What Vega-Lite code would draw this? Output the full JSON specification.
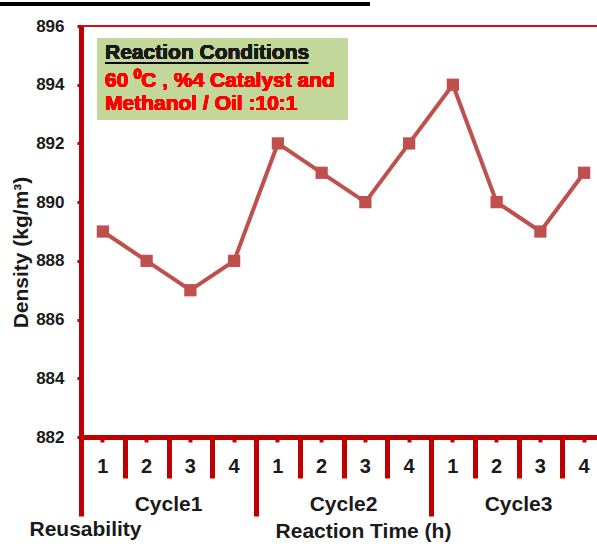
{
  "$schema": "https://vega.github.io/schema/vega-lite/v6.json",
  "width": 525,
  "height": 411,
  "autosize": {"type": "none"},
  "padding": {"left": 81, "top": 26, "right": 0, "bottom": 110},
  "config": {
    "view": {"stroke": "#c8161d", "strokeWidth": 2},
    "font": "Liberation Sans",
    "axis": {"grid": false}
  },
  "data": {
    "values": [
      {"cycle": "Cycle1", "slot": "C1-1", "density": 889},
      {"cycle": "Cycle1", "slot": "C1-2", "density": 888},
      {"cycle": "Cycle1", "slot": "C1-3", "density": 887},
      {"cycle": "Cycle1", "slot": "C1-4", "density": 888},
      {"cycle": "Cycle2", "slot": "C2-1", "density": 892},
      {"cycle": "Cycle2", "slot": "C2-2", "density": 891},
      {"cycle": "Cycle2", "slot": "C2-3", "density": 890},
      {"cycle": "Cycle2", "slot": "C2-4", "density": 892},
      {"cycle": "Cycle3", "slot": "C3-1", "density": 894},
      {"cycle": "Cycle3", "slot": "C3-2", "density": 890},
      {"cycle": "Cycle3", "slot": "C3-3", "density": 889},
      {"cycle": "Cycle3", "slot": "C3-4", "density": 891}
    ]
  },
  "layer": [
    {
      "mark": {"type": "line", "color": "#c0504d", "strokeWidth": 4,
        "point": {"shape": "square", "filled": true, "size": 150, "color": "#c0504d", "opacity": 1}},
      "encoding": {
        "x": {
          "field": "slot", "type": "nominal", "sort": null,
          "scale": {"type": "band", "paddingInner": 0, "paddingOuter": 0},
          "axis": {
            "orient": "bottom",
            "labelExpr": "substring(datum.label, 3)",
            "labelAngle": 0,
            "tickSize": 5,
            "tickWidth": 4,
            "tickColor": "#c00000",
            "domainColor": "#c00000",
            "domainWidth": 5,
            "labelPadding": 30,
            "labelBaseline": "alphabetic",
            "labelFontSize": 20,
            "labelFontWeight": "bold",
            "labelColor": "#1a1a1a",
            "title": "Reusability",
            "titleFontSize": 21,
            "titleFontWeight": "bold",
            "titleColor": "#1a1a1a",
            "titleAnchor": "start",
            "titleAlign": "left",
            "titleBaseline": "alphabetic",
            "titleX": -52,
            "titleY": 98
          }
        },
        "y": {
          "field": "density", "type": "quantitative",
          "scale": {"domain": [882, 896], "nice": false, "zero": false},
          "axis": {
            "values": [882, 883, 884, 885, 886, 887, 888, 889, 890, 891, 892, 893, 894, 895, 896],
            "labelExpr": "datum.value % 2 == 0 ? datum.label : ''",
            "tickSize": 4,
            "tickWidth": 3,
            "tickColor": "#c00000",
            "domainColor": "#c00000",
            "domainWidth": 5,
            "labelFontSize": 17,
            "labelFontWeight": "bold",
            "labelColor": "#1a1a1a",
            "labelPadding": 13,
            "title": "Density (kg/m³)",
            "titleFontSize": 21,
            "titleFontWeight": "bold",
            "titleColor": "#1a1a1a",
            "titleAngle": -90,
            "titleX": -60,
            "titleY": 226,
            "titleAlign": "center",
            "titleBaseline": "middle"
          }
        }
      }
    },
    {
      "mark": {"type": "point", "opacity": 0},
      "encoding": {
        "x": {
          "field": "cycle", "type": "nominal", "sort": null,
          "scale": {"type": "band", "paddingInner": 0, "paddingOuter": 0},
          "axis": {
            "orient": "bottom",
            "labelAngle": 0,
            "tickSize": 0,
            "tickOpacity": 0,
            "domain": false,
            "labelPadding": 73,
            "labelBaseline": "alphabetic",
            "labelFontSize": 21,
            "labelFontWeight": "bold",
            "labelColor": "#1a1a1a",
            "title": "Reaction Time (h)",
            "titleFontSize": 21,
            "titleFontWeight": "bold",
            "titleColor": "#1a1a1a",
            "titleAlign": "center",
            "titleBaseline": "alphabetic",
            "titleX": 282,
            "titleY": 100
          }
        },
        "y": {"field": "density", "type": "quantitative", "scale": {"domain": [882, 896], "nice": false, "zero": false}}
      }
    },
    {
      "mark": {"type": "point", "opacity": 0},
      "encoding": {
        "x": {"datum": 0, "type": "quantitative", "scale": {"domain": [0, 12], "nice": false, "zero": false},
          "axis": {"orient": "bottom", "values": [0, 4, 8, 12], "labels": false, "domain": false,
            "tickSize": 79, "tickWidth": 5, "tickColor": "#c00000", "title": null}},
        "y": {"datum": 882, "type": "quantitative", "scale": {"domain": [882, 896], "nice": false, "zero": false}}
      }
    },
    {
      "layer": [
        {
          "mark": {"type": "rect", "color": "#c4d79b"},
          "encoding": {
            "x": {"datum": 0.366, "type": "quantitative", "scale": {"domain": [0, 12], "nice": false, "zero": false},
              "axis": {"orient": "bottom", "values": [0, 1, 2, 3, 4, 5, 6, 7, 8, 9, 10, 11, 12],
                "labels": false, "domain": false, "tickSize": 41, "tickWidth": 5, "tickColor": "#c00000", "title": null}},
            "x2": {"datum": 6.103},
            "y": {"datum": 895.591, "type": "quantitative", "scale": {"domain": [882, 896], "nice": false, "zero": false}},
            "y2": {"datum": 892.798}
          }
        },
        {
          "mark": {"type": "rule", "color": "#000000", "strokeWidth": 1.5},
          "encoding": {
            "x": {"datum": 0.549, "type": "quantitative"},
            "x2": {"datum": 5.19},
            "y": {"datum": 894.74, "type": "quantitative"}
          }
        },
        {
          "mark": {"type": "rule", "color": "#000000", "strokeWidth": 4},
          "encoding": {
            "x": {"datum": -1.85, "type": "quantitative"},
            "x2": {"datum": 6.6},
            "y": {"datum": 896.75, "type": "quantitative"}
          }
        },
        {
          "mark": {"type": "text", "align": "left", "baseline": "alphabetic", "fontSize": 21, "fontWeight": "bold", "color": "#1a1a1a", "text": "Reaction Conditions"},
          "encoding": {
            "x": {"datum": 0.549, "type": "quantitative"},
            "y": {"datum": 894.876, "type": "quantitative"}
          }
        },
        {
          "mark": {"type": "text", "align": "left", "baseline": "alphabetic", "fontSize": 21, "fontWeight": "bold", "color": "#ff0000", "text": "60 ⁰C , %4 Catalyst and"},
          "encoding": {
            "x": {"datum": 0.549, "type": "quantitative"},
            "y": {"datum": 893.922, "type": "quantitative"}
          }
        },
        {
          "mark": {"type": "text", "align": "left", "baseline": "alphabetic", "fontSize": 21, "fontWeight": "bold", "color": "#ff0000", "text": "Methanol / Oil :10:1"},
          "encoding": {
            "x": {"datum": 0.549, "type": "quantitative"},
            "y": {"datum": 893.139, "type": "quantitative"}
          }
        }
      ]
    }
  ],
  "resolve": {"scale": {"x": "independent"}, "axis": {"x": "independent"}}
}
